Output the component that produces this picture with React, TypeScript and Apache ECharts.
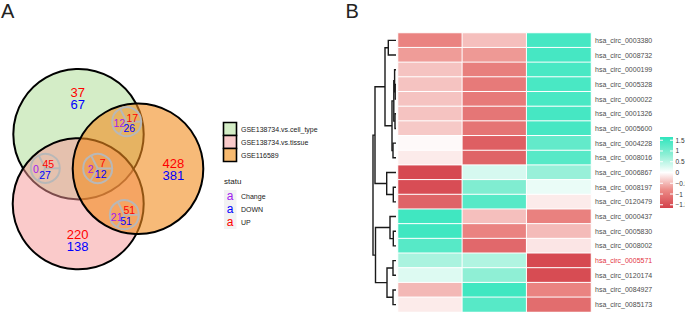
import React, { useEffect, useRef } from "react";
import * as echarts from "echarts";

// ---------------- Panel A : Venn data ----------------
const vennSets = ["GSE138734.vs.cell_type", "GSE138734.vs.tissue", "GSE116589"];
const vennRegions = ["cell_type only", "tissue only", "GSE116589 only", "cell_type&GSE116589", "cell_type&tissue", "all", "tissue&GSE116589"];
const upCounts = [37, 220, 428, 17, 45, 7, 51];
const downCounts = [67, 138, 381, 26, 27, 12, 51];
const changeCounts: (number | null)[] = [null, null, null, 12, 0, 2, 21];
const statusNames = ["Change", "DOWN", "UP"];

// ---------------- Panel B : heatmap data ----------------
const rowNames = [
  "hsa_circ_0003380", "hsa_circ_0008732", "hsa_circ_0000199", "hsa_circ_0005328", "hsa_circ_0000022",
  "hsa_circ_0001326", "hsa_circ_0005600", "hsa_circ_0004228", "hsa_circ_0008016", "hsa_circ_0006867",
  "hsa_circ_0008197", "hsa_circ_0120479", "hsa_circ_0000437", "hsa_circ_0005830", "hsa_circ_0008002",
  "hsa_circ_0005571", "hsa_circ_0120174", "hsa_circ_0084927", "hsa_circ_0085173",
];
const colNames = ["S1", "S2", "S3"];
const col1 = [-0.9, -0.7, -0.42, -0.42, -0.42, -0.42, -0.38, -0.04, -0.14, -1.55, -1.5, -1.25, 1.5, 1.5, 1.3, 0.62, 0.25, -0.5, -0.14];
const col2 = [-0.45, -0.72, -0.95, -1.0, -1.0, -1.05, -1.07, -1.3, -1.25, 0.3, 0.95, 1.3, -0.45, -0.9, -1.2, 0.58, 0.82, 1.5, 1.3];
const col3 = [1.45, 1.45, 1.42, 1.42, 1.42, 1.45, 1.45, 1.2, 1.3, 0.75, 0.15, -0.14, -0.92, -0.48, -0.18, -1.55, -1.52, -0.9, -1.15];
const highlightRow = "hsa_circ_0005571";
const colorTicks = [1.5, 1, 0.5, 0, -0.5, -1, -1.5];
const scaleMin = -1.65;
const scaleMax = 1.65;
const colorStops = ["#d3404a", "#ec8a86", "#ffffff", "#8eefd5", "#2fe5bd"];

// dendrogram merges: [childA, childB, height]; leaves are 0..18, merges numbered from 19
const dendroMerges: [number, number, number][] = [
  [0, 1, 7.7],
  [3, 4, 0.8],
  [2, 20, 1.4],
  [5, 6, 1.0],
  [21, 22, 2.2],
  [7, 8, 3.0],
  [23, 24, 4.0],
  [19, 25, 11.0],
  [10, 11, 2.7],
  [9, 27, 9.3],
  [26, 28, 21.0],
  [13, 14, 2.7],
  [12, 30, 6.0],
  [15, 16, 3.0],
  [17, 18, 3.0],
  [32, 33, 9.0],
  [31, 34, 20.5],
  [29, 35, 23.0],
];

// ---------------- layout (pixel space of panel A) ----------------
const FONT = "'Liberation Sans', Arial, sans-serif";
const vennCircleLayout = [
  { cx: 78.5, cy: 134.2, r: 65.2, fill: "rgba(160,215,130,0.45)" },
  { cx: 78.2, cy: 203.8, r: 65.5, fill: "rgba(245,150,150,0.5)" },
  { cx: 138, cy: 168.8, r: 65.3, fill: "rgba(242,140,30,0.6)" },
];
const vennKeyFills = ["#d4edc6", "#f9caca", "#f7ba70"];
const statusColors = ["#a020f0", "#0000ff", "#ff0000"];
const regionLayout: { up: number[]; down: number[]; change?: number[]; ring?: number[] }[] = [
  { up: [77.7, 92.4], down: [77.7, 104.6] },
  { up: [77.7, 234], down: [77.7, 246.2] },
  { up: [173.3, 163], down: [173.3, 175.2] },
  { up: [132.3, 117.7], down: [129.3, 128.3], change: [119.3, 123.3], ring: [126.7, 121.7] },
  { up: [48.3, 164], down: [45, 175], change: [36, 169.3], ring: [45.3, 168.3] },
  { up: [102.7, 163.3], down: [100.7, 174.3], change: [90.7, 169], ring: [97.7, 168.5] },
  { up: [129.3, 210], down: [126, 221], change: [116.7, 216.7], ring: [124.3, 214.7] },
];
const ringR = 14.5;

export default function App() {
  const ref = useRef<HTMLDivElement>(null);
  useEffect(() => {
    const chart = echarts.init(ref.current!, null, { renderer: "svg" });

    // venn text items
    const textItems: { v: number[]; text: string; color: string; size: number }[] = [];
    vennRegions.forEach((_, i) => {
      const L = regionLayout[i];
      const inner = changeCounts[i] !== null;
      const size = inner ? 10.5 : 13;
      textItems.push({ v: L.up, text: String(upCounts[i]), color: statusColors[2], size });
      textItems.push({ v: L.down, text: String(downCounts[i]), color: statusColors[1], size });
      if (inner && L.change) textItems.push({ v: L.change, text: String(changeCounts[i]), color: statusColors[0], size });
    });
    const rings = regionLayout.filter((l) => l.ring).map((l) => l.ring as number[]);

    // dendrogram geometry
    const nodeY: number[] = rowNames.map((_, i) => i);
    const nodeH: number[] = rowNames.map(() => 0);
    const segs: number[][] = [];
    dendroMerges.forEach(([a, b, h]) => {
      segs.push([nodeH[a], nodeY[a], h, nodeY[b], nodeH[b]]);
      nodeY.push((nodeY[a] + nodeY[b]) / 2);
      nodeH.push(h);
    });

    const heatData: number[][] = [];
    [col1, col2, col3].forEach((col, ci) => col.forEach((v, ri) => heatData.push([ci, ri, v])));

    // colour bar
    const cbX = 660, cbY = 137, cbW = 13, cbH = 71;
    const n = colorStops.length;
    const grad = new echarts.graphic.LinearGradient(
      0, 0, 0, 1,
      colorStops.slice().reverse().map((c, i) => ({ offset: i / (n - 1), color: c }))
    );
    const cbElems: any[] = [
      { type: "rect", shape: { x: cbX, y: cbY, width: cbW, height: cbH }, style: { fill: grad } },
    ];
    colorTicks.forEach((t) => {
      const y = cbY + ((scaleMax - t) / (scaleMax - scaleMin)) * cbH;
      cbElems.push({ type: "line", shape: { x1: cbX, y1: y, x2: cbX + 3, y2: y }, style: { stroke: "#fff", lineWidth: 1 } });
      cbElems.push({ type: "line", shape: { x1: cbX + cbW - 3, y1: y, x2: cbX + cbW, y2: y }, style: { stroke: "#fff", lineWidth: 1 } });
      cbElems.push({
        type: "text", x: cbX + cbW + 2.5, y,
        style: { text: t < 0 ? "\u2212" + Math.abs(t) : String(t), fontSize: 6.5, fontFamily: FONT, fill: "#333", verticalAlign: "middle", align: "left" },
      });
    });

    // venn legend
    const legElems: any[] = [];
    vennSets.forEach((s, i) => {
      legElems.push({ type: "rect", shape: { x: 223.5, y: 122.5 + i * 13, width: 13, height: 13 }, style: { fill: vennKeyFills[i], stroke: "#000", lineWidth: 1.6 } });
      legElems.push({ type: "text", x: 241, y: 129 + i * 13, style: { text: s, fontSize: 7, fontFamily: FONT, fill: "#1a1a1a", verticalAlign: "middle" } });
    });
    legElems.push({ type: "text", x: 224, y: 181.5, style: { text: "statu", fontSize: 8, fontFamily: FONT, fill: "#1a1a1a", verticalAlign: "middle" } });
    statusNames.forEach((s, i) => {
      legElems.push({ type: "rect", shape: { x: 224, y: 190 + i * 13, width: 12.5, height: 13 }, style: { fill: "#f2f2f2" } });
      legElems.push({ type: "text", x: 230, y: 196 + i * 13, style: { text: "a", fontSize: 12, fontFamily: FONT, fill: statusColors[i], align: "center", verticalAlign: "middle" } });
      legElems.push({ type: "text", x: 241, y: 196.5 + i * 13, style: { text: s, fontSize: 7, fontFamily: FONT, fill: "#1a1a1a", verticalAlign: "middle" } });
    });

    const option: any = {
      animation: false,
      backgroundColor: "#fff",
      grid: [
        { left: 0, top: 0, width: 340, height: 312 },
        { left: 372, top: 33, width: 24, height: 279 },
        { left: 398, top: 33, width: 193, height: 279 },
      ],
      xAxis: [
        { gridIndex: 0, type: "value", min: 0, max: 340, show: false },
        { gridIndex: 1, type: "value", min: 0, max: 24, inverse: true, show: false },
        { gridIndex: 2, type: "category", data: colNames, show: false },
      ],
      yAxis: [
        { gridIndex: 0, type: "value", min: 0, max: 312, inverse: true, show: false },
        { gridIndex: 1, type: "value", min: -0.5, max: 18.5, inverse: true, show: false },
        {
          gridIndex: 2, type: "category", data: rowNames, inverse: true, position: "right",
          axisLine: { show: false }, axisTick: { show: false }, splitLine: { show: false },
          axisLabel: {
            interval: 0, margin: 4, fontSize: 7, fontFamily: FONT, color: "#4d4d4d",
            formatter: (v: string) => (v === highlightRow ? `{r|${v}}` : v),
            rich: { r: { color: "#e3343f", fontSize: 7, fontFamily: FONT } },
          },
        },
      ],
      visualMap: [
        { type: "continuous", show: false, min: scaleMin, max: scaleMax, dimension: 2, seriesIndex: 4, inRange: { color: colorStops } },
      ],
      series: [
        {
          type: "custom", xAxisIndex: 0, yAxisIndex: 0, z: 1, clip: false,
          data: vennCircleLayout.map((c) => [c.cx, c.cy, c.r]),
          renderItem: (params: any, api: any) => {
            const p = api.coord([api.value(0), api.value(1)]);
            const r = api.size([api.value(2), 0])[0];
            return { type: "circle", shape: { cx: p[0], cy: p[1], r }, style: { fill: vennCircleLayout[params.dataIndex].fill, stroke: "#000", lineWidth: 2 } };
          },
        },
        {
          type: "custom", xAxisIndex: 0, yAxisIndex: 0, z: 2, clip: false,
          data: rings.map((r) => [r[0], r[1], ringR]),
          renderItem: (params: any, api: any) => {
            const p = api.coord([api.value(0), api.value(1)]);
            const r = api.size([api.value(2), 0])[0];
            const angles = [0, 117, 240];
            const st = { stroke: "#b8b8b8", lineWidth: 2, fill: "none" };
            return {
              type: "group",
              children: [
                { type: "circle", shape: { cx: p[0], cy: p[1], r }, style: st },
                ...angles.map((a) => ({
                  type: "line",
                  shape: { x1: p[0], y1: p[1], x2: p[0] + r * Math.cos((a * Math.PI) / 180), y2: p[1] - r * Math.sin((a * Math.PI) / 180) },
                  style: st,
                })),
              ],
            };
          },
        },
        {
          type: "custom", xAxisIndex: 0, yAxisIndex: 0, z: 3, clip: false,
          data: textItems.map((t) => t.v),
          renderItem: (params: any, api: any) => {
            const t = textItems[params.dataIndex];
            const p = api.coord([api.value(0), api.value(1)]);
            return { type: "text", x: p[0], y: p[1], style: { text: t.text, fill: t.color, fontSize: t.size, fontFamily: FONT, align: "center", verticalAlign: "middle" } };
          },
        },
        {
          type: "custom", xAxisIndex: 1, yAxisIndex: 1, z: 2, clip: false,
          data: segs,
          renderItem: (params: any, api: any) => {
            const pts = [
              api.coord([api.value(0), api.value(1)]),
              api.coord([api.value(2), api.value(1)]),
              api.coord([api.value(2), api.value(3)]),
              api.coord([api.value(4), api.value(3)]),
            ];
            return { type: "polyline", shape: { points: pts }, style: { stroke: "#1a1a1a", lineWidth: 1.4, fill: "none" } };
          },
        },
        {
          type: "heatmap", xAxisIndex: 2, yAxisIndex: 2, data: heatData,
          itemStyle: { borderColor: "#fff", borderWidth: 1 },
          emphasis: { disabled: true },
        },
      ],
      graphic: [
        { type: "text", x: 1, y: 11, style: { text: "A", fontSize: 20, fontFamily: FONT, fill: "#222", verticalAlign: "middle" } },
        { type: "text", x: 345.5, y: 11, style: { text: "B", fontSize: 20, fontFamily: FONT, fill: "#222", verticalAlign: "middle" } },
        ...legElems,
        ...cbElems,
      ],
    };
    chart.setOption(option);
    return () => chart.dispose();
  }, []);
  return <div ref={ref} style={{ position: "fixed", left: 0, top: 0, width: 685, height: 312 }} />;
}
